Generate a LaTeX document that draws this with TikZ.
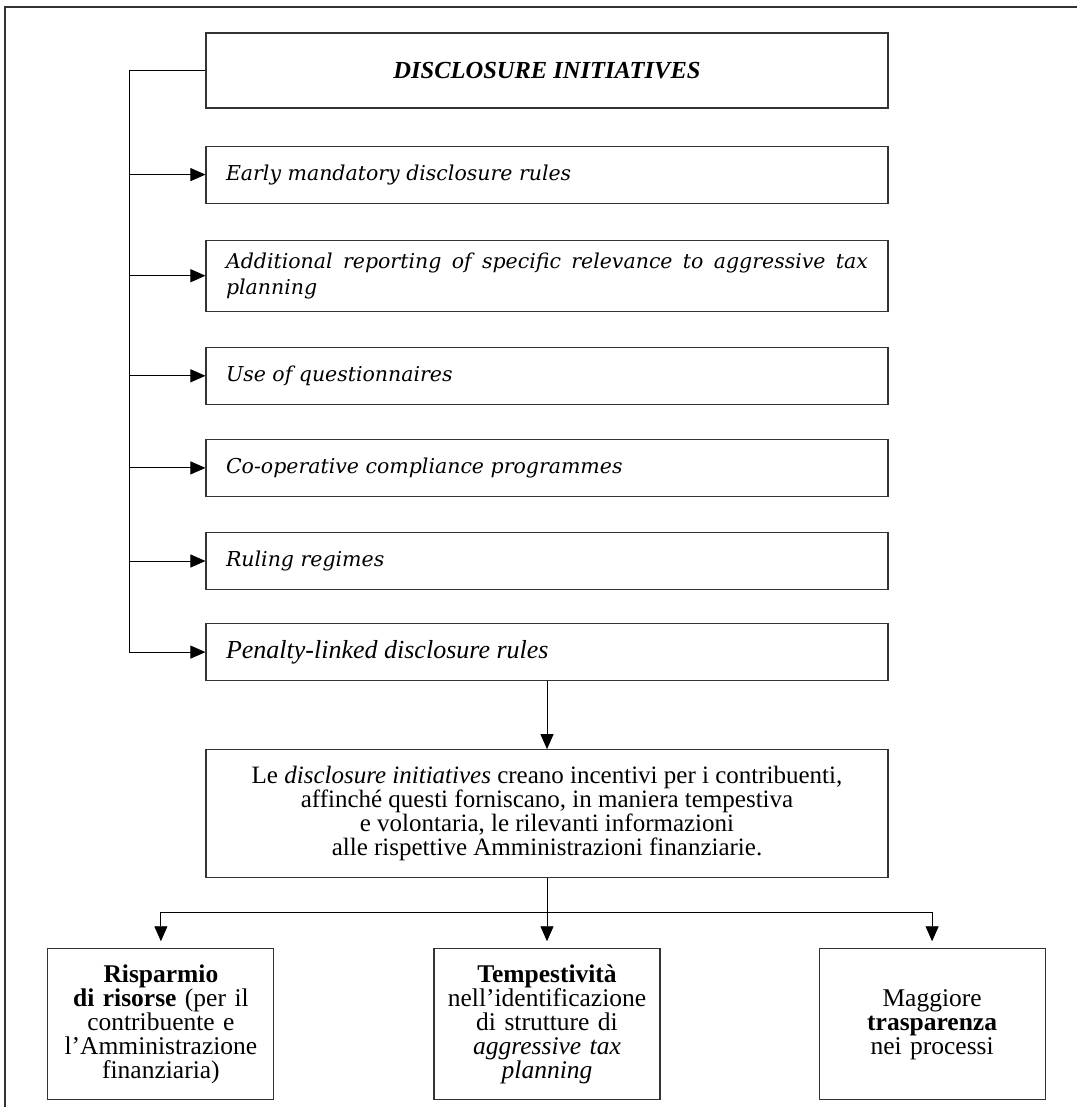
\documentclass[tikz,border=0pt]{standalone}
\usepackage{fontspec}
\setmainfont{Liberation Serif}
\newfontfamily\bookfont{DejaVu Serif}
\usetikzlibrary{arrows.meta,positioning}
\hyphenpenalty=10000

\begin{document}
\begin{tikzpicture}[
  x=1pt, y=1pt,
  node distance=35pt,
  box/.style={draw=black!80, line width=1.1pt, minimum width=682pt, inner sep=0pt},
  head/.style={box, minimum height=75pt,
               font=\fontsize{24.5}{26}\selectfont\bfseries\itshape},
  item/.style={box, minimum height=57pt, text width=642pt, inner xsep=20pt,
               align=justify, font=\bookfont\itshape\fontsize{20.5}{26}\selectfont},
  alt/.style={item, font=\itshape\fontsize{26}{27}\selectfont},
  note/.style={box, minimum height=128pt, align=center,
               font=\fontsize{25}{24}\selectfont},
  outcome/.style={draw=black!80, line width=1.1pt, minimum width=226pt,
                  minimum height=151pt, text width=216pt, inner xsep=5pt,
                  align=center, font=\fontsize{25.5}{24}\selectfont},
  arr/.style={-{Triangle[length=15pt, width=13pt]}, line width=0.9pt},
  rule/.style={line width=0.9pt}
]
\useasboundingbox (0,0) rectangle (1077,-1107);
% page frame
\draw[line width=1.5pt, black!80] (1077,-7) -| (5,-1107);
% initiatives
\node[head] (title) at (547,-70.5) {DISCLOSURE INITIATIVES};
\node[item, below=37pt of title] (early) {Early mandatory disclosure rules};
\node[item, below=36pt of early, minimum height=71pt] (extra)
  {Additional reporting of specific relevance to aggressive tax planning};
\node[item, below=35pt of extra] (quest) {Use of questionnaires};
\node[item, below=34pt of quest] (coop) {Co-operative compliance programmes};
\node[item, below=35pt of coop] (ruling) {Ruling regimes};
\node[alt, below=33pt of ruling] (penalty) {Penalty-linked disclosure rules};
% effect
\node[note, below=68pt of penalty] (effect)
  {Le \textit{disclosure initiatives} creano incentivi per i contribuenti,\\
   affinché questi forniscano, in maniera tempestiva\\
   e volontaria, le rilevanti informazioni\\
   alle rispettive Amministrazioni finanziarie.};
% outcomes
\node[outcome, below=70pt of effect] (timing)
  {\textbf{Tempestività}\\ nell'identificazione\\ di strutture di\\
   \textit{aggressive tax}\\ \textit{planning}};
\node[outcome, left=159pt of timing] (saving)
  {\textbf{Risparmio}\\ \textbf{di risorse} (per il\\ contribuente e\\
   l'Amministrazione\\ finanziaria)};
\node[outcome, right=158pt of timing] (clarity)
  {Maggiore\\ \textbf{trasparenza}\\ nei processi};
% arrows
\coordinate (rail) at ([xshift=-76pt]title.west);
\draw[rule] (title.west) -- (rail) -- (rail |- penalty.west);
\foreach \n in {early,extra,quest,coop,ruling,penalty}
  \draw[arr] (rail |- \n.west) -- (\n.west);
\draw[arr] (penalty.south) -- (effect.north);
\coordinate (fork) at ([yshift=-34pt]effect.south);
\draw[rule] (effect.south) -- (fork);
\draw[rule] (fork -| saving.north) -- (fork -| clarity.north);
\foreach \n in {saving,timing,clarity}
  \draw[arr, shorten >=7pt] (fork -| \n.north) -- (\n.north);
\end{tikzpicture}
\end{document}
